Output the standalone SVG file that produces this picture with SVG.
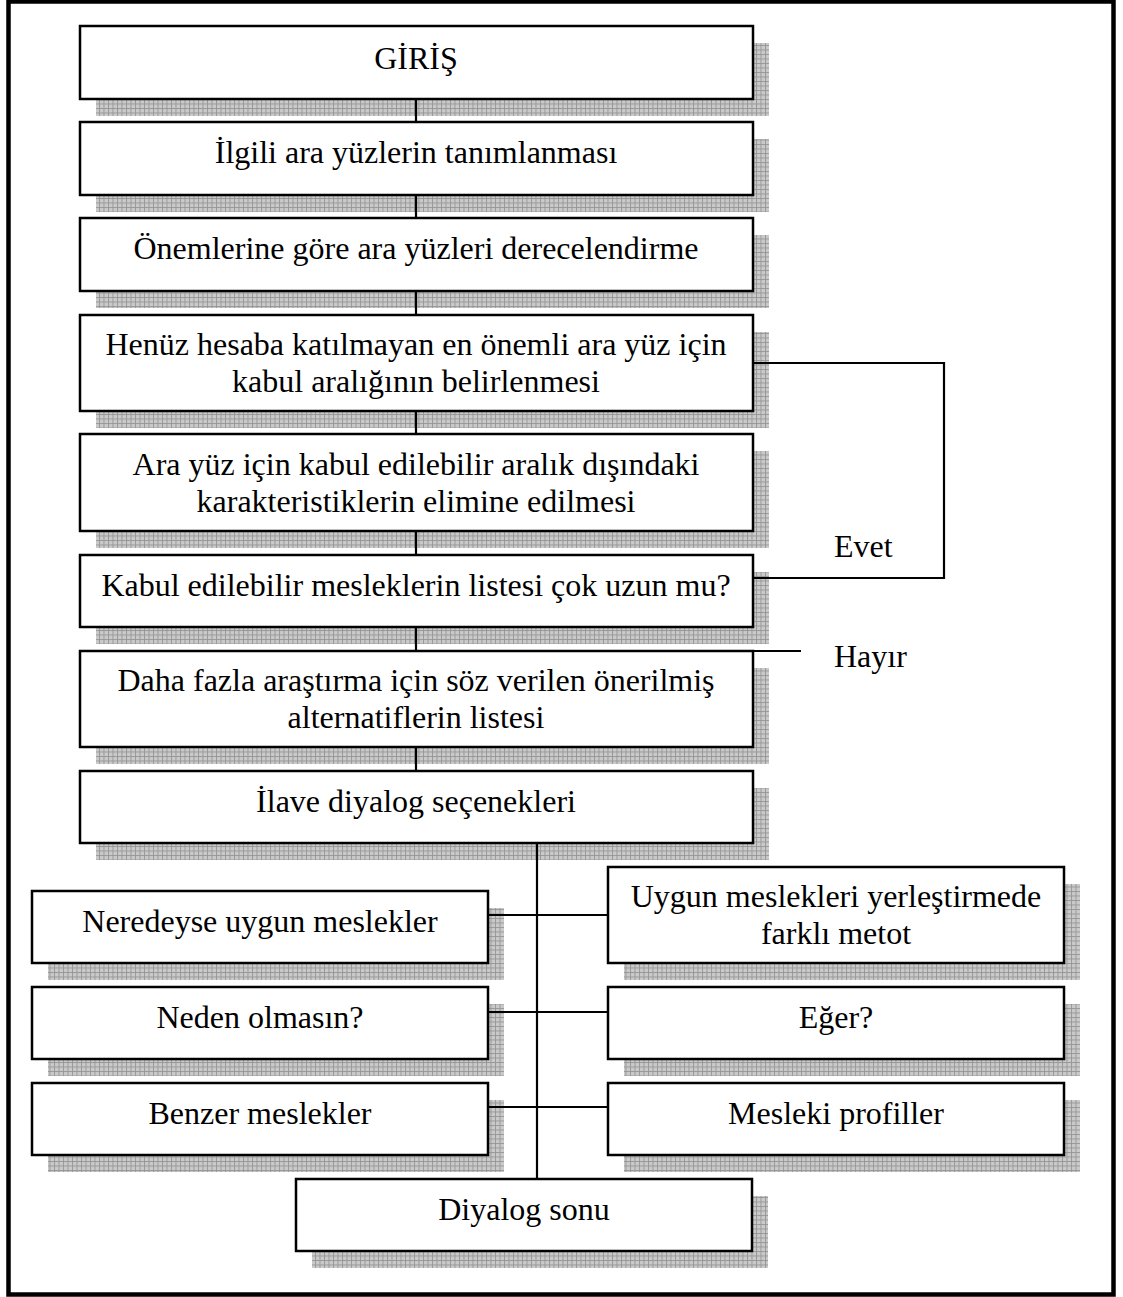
<svg xmlns="http://www.w3.org/2000/svg" width="1123" height="1297" viewBox="0 0 1123 1297">
  <defs>
    <!-- hatched drop shadow fill -->
    <pattern id="grid" width="4.5" height="4.5" patternUnits="userSpaceOnUse">
      <rect width="4.5" height="4.5" fill="#cacaca"/>
      <path d="M0 0.5H4.5M0.5 0V4.5" stroke="#969696" stroke-width="0.9"/>
    </pattern>
  </defs>
  <style>
    .sh { fill: url(#grid); }
    .bx { fill: #ffffff; stroke: #000000; stroke-width: 2.5; }
    .t { font-family: "Liberation Serif", "Times New Roman", serif; font-size: 32px; fill: #000000; text-anchor: middle; }
    .lbl { font-family: "Liberation Serif", "Times New Roman", serif; font-size: 32px; fill: #000000; }
    .ln { fill: none; stroke: #000000; stroke-width: 2.2; }
  </style>

  <rect x="0" y="0" width="1123" height="1297" fill="#ffffff"/>
  <!-- page frame -->
  <rect x="8.5" y="1.5" width="1105" height="1293" fill="none" stroke="#000000" stroke-width="4.5"/>

  <g id="n-giris">
    <rect class="sh" x="96" y="43" width="673" height="73"/>
    <rect class="bx" x="80" y="26" width="673" height="73"/>
    <text class="t" x="416" y="69">GİRİŞ</text>
  </g>
  <g id="n-ilgili">
    <rect class="sh" x="96" y="139" width="673" height="73"/>
    <rect class="bx" x="80" y="122" width="673" height="73"/>
    <text class="t" x="416" y="163">İlgili ara yüzlerin tanımlanması</text>
  </g>
  <g id="n-onem">
    <rect class="sh" x="96" y="235" width="673" height="73"/>
    <rect class="bx" x="80" y="218" width="673" height="73"/>
    <text class="t" x="416" y="259">Önemlerine göre ara yüzleri derecelendirme</text>
  </g>
  <g id="n-henuz">
    <rect class="sh" x="96" y="332" width="673" height="96"/>
    <rect class="bx" x="80" y="315" width="673" height="96"/>
    <text class="t" x="416" y="355">Henüz hesaba katılmayan en önemli ara yüz için</text>
    <text class="t" x="416" y="392">kabul aralığının belirlenmesi</text>
  </g>
  <g id="n-ara">
    <rect class="sh" x="96" y="451" width="673" height="97"/>
    <rect class="bx" x="80" y="434" width="673" height="97"/>
    <text class="t" x="416" y="475">Ara yüz için kabul edilebilir aralık dışındaki</text>
    <text class="t" x="416" y="512">karakteristiklerin elimine edilmesi</text>
  </g>
  <g id="n-kabul">
    <rect class="sh" x="96" y="572" width="673" height="72"/>
    <rect class="bx" x="80" y="555" width="673" height="72"/>
    <text class="t" x="416" y="596">Kabul edilebilir mesleklerin listesi çok uzun mu?</text>
  </g>
  <g id="n-daha">
    <rect class="sh" x="96" y="668" width="673" height="96"/>
    <rect class="bx" x="80" y="651" width="673" height="96"/>
    <text class="t" x="416" y="691">Daha fazla araştırma için söz verilen önerilmiş</text>
    <text class="t" x="416" y="728">alternatiflerin listesi</text>
  </g>
  <g id="n-ilave">
    <rect class="sh" x="96" y="788" width="673" height="72"/>
    <rect class="bx" x="80" y="771" width="673" height="72"/>
    <text class="t" x="416" y="812">İlave diyalog seçenekleri</text>
  </g>

  <g id="n-neredeyse">
    <rect class="sh" x="48" y="908" width="456" height="72"/>
    <rect class="bx" x="32" y="891" width="456" height="72"/>
    <text class="t" x="260" y="932">Neredeyse uygun meslekler</text>
  </g>
  <g id="n-neden">
    <rect class="sh" x="48" y="1004" width="456" height="72"/>
    <rect class="bx" x="32" y="987" width="456" height="72"/>
    <text class="t" x="260" y="1028">Neden olmasın?</text>
  </g>
  <g id="n-benzer">
    <rect class="sh" x="48" y="1100" width="456" height="72"/>
    <rect class="bx" x="32" y="1083" width="456" height="72"/>
    <text class="t" x="260" y="1124">Benzer meslekler</text>
  </g>

  <g id="n-uygun">
    <rect class="sh" x="624" y="884" width="456" height="96"/>
    <rect class="bx" x="608" y="867" width="456" height="96"/>
    <text class="t" x="836" y="907">Uygun meslekleri yerleştirmede</text>
    <text class="t" x="836" y="944">farklı metot</text>
  </g>
  <g id="n-eger">
    <rect class="sh" x="624" y="1004" width="456" height="72"/>
    <rect class="bx" x="608" y="987" width="456" height="72"/>
    <text class="t" x="836" y="1028">Eğer?</text>
  </g>
  <g id="n-mesleki">
    <rect class="sh" x="624" y="1100" width="456" height="72"/>
    <rect class="bx" x="608" y="1083" width="456" height="72"/>
    <text class="t" x="836" y="1124">Mesleki profiller</text>
  </g>

  <g id="n-son">
    <rect class="sh" x="312" y="1196" width="456" height="72"/>
    <rect class="bx" x="296" y="1179" width="456" height="72"/>
    <text class="t" x="524" y="1220">Diyalog sonu</text>
  </g>

  <g id="connectors">
    <path class="ln" d="M416 99V122M416 195V218M416 291V315M416 411V434M416 531V555M416 627V651M416 747V771"/>
    <!-- Evet loop back -->
    <path class="ln" d="M753 578H944V363H753"/>
    <!-- Hayır -->
    <path class="ln" d="M753 651H801"/>
    <!-- options trunk and branches -->
    <path class="ln" d="M537 843V1179"/>
    <path class="ln" d="M488 915H608M488 1012H608M488 1107H608"/>
    <text class="lbl" x="834" y="557">Evet</text>
    <text class="lbl" x="834" y="667">Hayır</text>
  </g>
</svg>
